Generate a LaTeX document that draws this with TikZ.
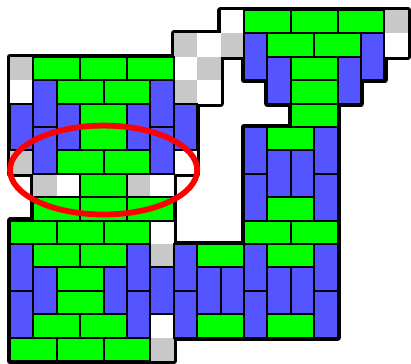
\documentclass[tikz,border=0pt]{standalone}
\definecolor{Brick}{HTML}{00FF00}
\definecolor{Pillar}{HTML}{5555FF}
\definecolor{Gap}{HTML}{C8C8C8}
\begin{document}
\begin{tikzpicture}[
    x=1cm,y=-1cm,
    hbrick/.style={draw=black,line width=2.4pt,fill=Brick},
    vbrick/.style={draw=black,line width=2.4pt,fill=Pillar},
    gapcell/.style={fill=#1},
    rim/.style={draw=black,line width=8pt,line join=round},
    ring/.style={draw=red,line width=7pt}
  ]
    \useasboundingbox (-0.427,-0.427) rectangle (17.137,15.128);
    \draw[rim] (9,0) -- (17,0) -- (17,2) -- (16,2) -- (16,3) -- (15,3) -- (15,4) -- (14,4) -- (14,14) -- (7,14) -- (7,15) -- (0,15) -- (0,9) -- (1,9) -- (1,7) -- (0,7) -- (0,2) -- (7,2) -- (7,1) -- (9,1) -- cycle;
    \draw[rim] (9,2) -- (10,2) -- (10,3) -- (11,3) -- (11,4) -- (12,4) -- (12,5) -- (10,5) -- (10,10) -- (7,10) -- (7,7) -- (8,7) -- (8,4) -- (9,4) -- cycle;
    \foreach \c/\r in {16/0,7/1,9/1,0/2,8/2,7/3,0/6,1/7,5/7,6/10,6/14}
      \fill[gapcell=Gap] (\c,\r) rectangle ++(1,1);
    \foreach \c/\r in {9/0,8/1,16/1,7/2,0/3,8/3,7/6,2/7,6/7,6/9,6/13}
      \fill[gapcell=white] (\c,\r) rectangle ++(1,1);
    \foreach \c/\r in {10/0,12/0,14/0,11/1,13/1,12/2,12/3,12/4,
                       11/5,11/8,10/9,12/9,
                       1/2,3/2,5/2,2/3,4/3,3/4,3/5,2/6,4/6,3/7,1/8,3/8,5/8,0/9,2/9,4/9,
                       1/10,3/10,8/10,11/10,2/11,2/12,1/13,3/13,8/13,11/13,0/14,2/14,4/14}
      \draw[hbrick] (\c,\r) rectangle ++(2,1);
    \foreach \c/\r in {10/1,15/1,11/2,14/2,
                       10/5,13/5,11/6,12/6,10/7,13/7,
                       1/3,6/3,0/4,2/4,5/4,7/4,1/5,6/5,
                       0/10,5/10,7/10,10/10,13/10,1/11,4/11,6/11,8/11,9/11,11/11,12/11,
                       0/12,5/12,7/12,10/12,13/12}
      \draw[vbrick] (\c,\r) rectangle ++(1,2);
    \draw[ring] (4,6.84) ellipse [x radius=4,y radius=1.9];
\end{tikzpicture}
\end{document}
